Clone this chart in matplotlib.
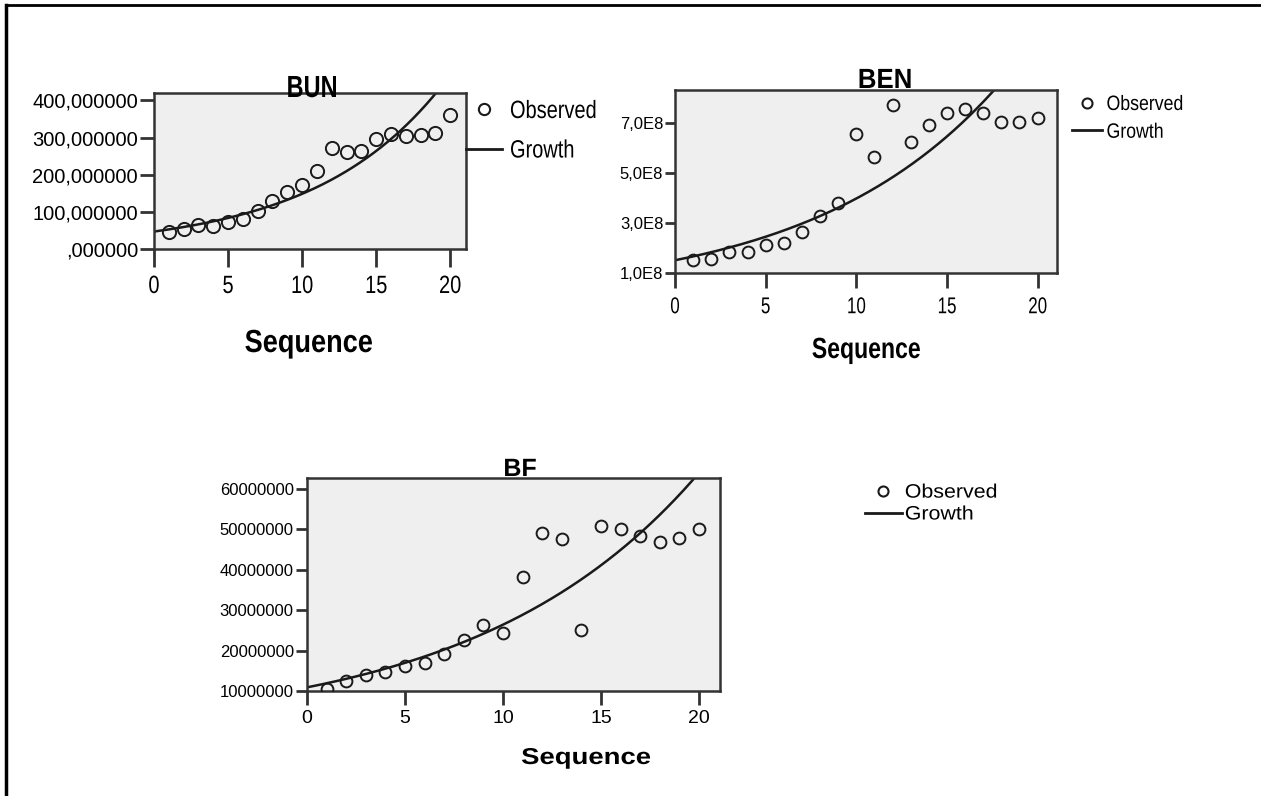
import numpy as np
import matplotlib
matplotlib.use("Agg")
import matplotlib.pyplot as plt
from matplotlib.lines import Line2D
from matplotlib.patheffects import AbstractPathEffect
from matplotlib.transforms import Affine2D

FONT = 'Liberation Sans'

# ---------------- data ----------------
sequence = list(range(1, 21))

bun_observed = [45, 54, 65, 61, 74, 80, 101, 129, 153, 172,
                211, 273, 262, 264, 297, 309, 304, 306, 311, 360]
bun_growth_start = 47.0        # fitted growth model value at t=0
bun_growth_rate = 0.115        # fitted growth rate per step
bun_yticks = [0, 100, 200, 300, 400]
bun_yticklabels = [",000000", "100,000000", "200,000000", "300,000000", "400,000000"]

ben_observed = [1.51e8, 1.56e8, 1.83e8, 1.83e8, 2.13e8, 2.20e8, 2.64e8, 3.27e8, 3.80e8, 6.57e8,
                5.64e8, 7.72e8, 6.24e8, 6.92e8, 7.40e8, 7.57e8, 7.40e8, 7.04e8, 7.04e8, 7.19e8]
ben_growth_start = 1.51e8
ben_growth_rate = 0.097
ben_yticks = [1e8, 3e8, 5e8, 7e8]
ben_yticklabels = ["1,0E8", "3,0E8", "5,0E8", "7,0E8"]

bf_observed = [10.4e6, 12.4e6, 14.0e6, 14.7e6, 16.2e6, 16.9e6, 19.2e6, 22.5e6, 26.4e6, 24.4e6,
               38.3e6, 49.2e6, 47.6e6, 25.1e6, 50.8e6, 50.2e6, 48.3e6, 46.9e6, 47.8e6, 50.0e6]
bf_growth_start = 10.9e6
bf_growth_rate = 0.0885
bf_yticks = [10e6, 20e6, 30e6, 40e6, 50e6, 60e6]
bf_yticklabels = ["10000000", "20000000", "30000000", "40000000", "50000000", "60000000"]

xticks = [0, 5, 10, 15, 20]
xticklabels = ["0", "5", "10", "15", "20"]


# horizontal squeeze of text glyphs (emulates the condensed SPSS font)
class Squeeze(AbstractPathEffect):
    def __init__(self, sx=1.0, anchor="center"):
        super().__init__()
        self.sx = sx
        self.anchor = anchor

    def draw_path(self, renderer, gc, tpath, affine, rgbFace=None):
        ext = tpath.get_extents()
        if self.anchor == "left":
            xc = ext.x0
        elif self.anchor == "right":
            xc = ext.x1
        else:
            xc = 0.5 * (ext.x0 + ext.x1)
        tr = Affine2D().translate(-xc, 0).scale(self.sx, 1).translate(xc, 0) + affine
        renderer.draw_path(gc, tpath, tr, rgbFace)


# ---------------- figure ----------------
W, H = 1261, 796
fig = plt.figure(figsize=(W / 100, H / 100), dpi=100)
fig.patch.set_facecolor("white")


def px_rect(left, top, right, bottom):
    return [left / W, 1 - bottom / H, (right - left) / W, (bottom - top) / H]


def fx(x):
    return x / W


def fy(y):
    return 1 - y / H


# frame lines (top and left)
fig.add_artist(Line2D([fx(6), 1.0], [fy(5), fy(5)], color="black", lw=2))
fig.add_artist(Line2D([fx(6), fx(6)], [fy(5), 0.0], color="black", lw=2.5))

panels = [
    dict(rect=px_rect(154, 93, 466, 249), obs=bun_observed, g0=bun_growth_start, gr=bun_growth_rate,
         ylim=(0, 420), yticks=bun_yticks, yticklabels=bun_yticklabels,
         ytick_fs=14.5, xtick_fs=18, xtick_sq=0.8, ytl=10, xtl=13, ms=9.5, xpad=5,
         title="BUN", title_xy=(312, 97), title_fs=22, title_sq=0.77,
         xlabel_xy=(309, 352), xlabel_fs=23, xlabel_sq=0.85,
         leg_xy=(466, 99), leg_fs=18, leg_sq=0.8, leg_hl=1.45, leg_ls=0.62, leg_tp=0.3),
    dict(rect=px_rect(675, 90, 1057, 273), obs=ben_observed, g0=ben_growth_start, gr=ben_growth_rate,
         ylim=(1e8, 8.33e8), yticks=ben_yticks, yticklabels=ben_yticklabels,
         ytick_fs=12, xtick_fs=16.5, xtick_sq=0.74, ytl=7, xtl=11, ms=8.5, xpad=5,
         title="BEN", title_xy=(885, 88), title_fs=20, title_sq=0.93,
         xlabel_xy=(866, 358), xlabel_fs=21, xlabel_sq=0.79,
         leg_xy=(1072, 95), leg_fs=15, leg_sq=0.85, leg_hl=1.45, leg_ls=0.42, leg_tp=0.2),
    dict(rect=px_rect(307, 478, 720, 691), obs=bf_observed, g0=bf_growth_start, gr=bf_growth_rate,
         ylim=(10e6, 62.7e6), yticks=bf_yticks, yticklabels=bf_yticklabels,
         ytick_fs=12, xtick_fs=14, xtick_sq=1.0, ytl=8, xtl=10, ms=8.5, xpad=4,
         title="BF", title_xy=(520, 476), title_fs=18, title_sq=1.0,
         xlabel_xy=(586, 764), xlabel_fs=16.5, xlabel_sq=1.2,
         leg_xy=(865, 484), leg_fs=14, leg_sq=1.1, leg_hl=1.9, leg_ls=0.22, leg_tp=0.15),
]

for p in panels:
    ax = fig.add_axes(p["rect"])
    ax.set_facecolor("#efefef")
    t = np.linspace(0, 21, 400)
    growth = p["g0"] * np.exp(p["gr"] * t)
    ax.plot(t, growth, color="#1a1a1a", lw=1.8, zorder=2)
    ax.plot(sequence, p["obs"], linestyle="none", marker="o", ms=p["ms"],
            mfc="none", mec="#1a1a1a", mew=1.4, zorder=3)
    ax.set_xlim(0, 21.07)
    ax.set_ylim(*p["ylim"])
    ax.set_xticks(xticks)
    xl = ax.set_xticklabels(xticklabels, fontsize=p["xtick_fs"], family=FONT)
    if p["xtick_sq"] != 1.0:
        for lab in xl:
            lab.set_path_effects([Squeeze(p["xtick_sq"], "center")])
    ax.set_yticks(p["yticks"])
    ax.set_yticklabels(p["yticklabels"], fontsize=p["ytick_fs"], family=FONT)
    ax.tick_params(axis="y", length=p["ytl"], width=2, pad=1.5, color="#333333")
    ax.tick_params(axis="x", length=p["xtl"], width=2, pad=p["xpad"], color="#333333")
    for s in ax.spines.values():
        s.set_color("#333333")
        s.set_linewidth(1.8)

    tt = fig.text(fx(p["title_xy"][0]), fy(p["title_xy"][1]), p["title"], ha="center", va="baseline",
                  fontsize=p["title_fs"], fontweight="bold", family=FONT)
    tt.set_path_effects([Squeeze(p["title_sq"], "center")])
    xt = fig.text(fx(p["xlabel_xy"][0]), fy(p["xlabel_xy"][1]), "Sequence", ha="center", va="baseline",
                  fontsize=p["xlabel_fs"], fontweight="bold", family=FONT)
    xt.set_path_effects([Squeeze(p["xlabel_sq"], "center")])

    handles = [Line2D([], [], linestyle="none", marker="o", ms=p["ms"] * 0.85, mfc="none",
                      mec="#1a1a1a", mew=1.5),
               Line2D([], [], color="#1a1a1a", lw=2)]
    leg = fig.legend(handles, ["Observed", "Growth"], loc="upper left",
                     bbox_to_anchor=(fx(p["leg_xy"][0]), fy(p["leg_xy"][1])),
                     frameon=False, borderpad=0, borderaxespad=0,
                     handlelength=p["leg_hl"], handletextpad=p["leg_tp"],
                     labelspacing=p["leg_ls"],
                     prop={"family": FONT, "size": p["leg_fs"]})
    if p["leg_sq"] != 1.0:
        for txt in leg.get_texts():
            txt.set_path_effects([Squeeze(p["leg_sq"], "left")])

fig.savefig("out.png", dpi=100, facecolor="white")
